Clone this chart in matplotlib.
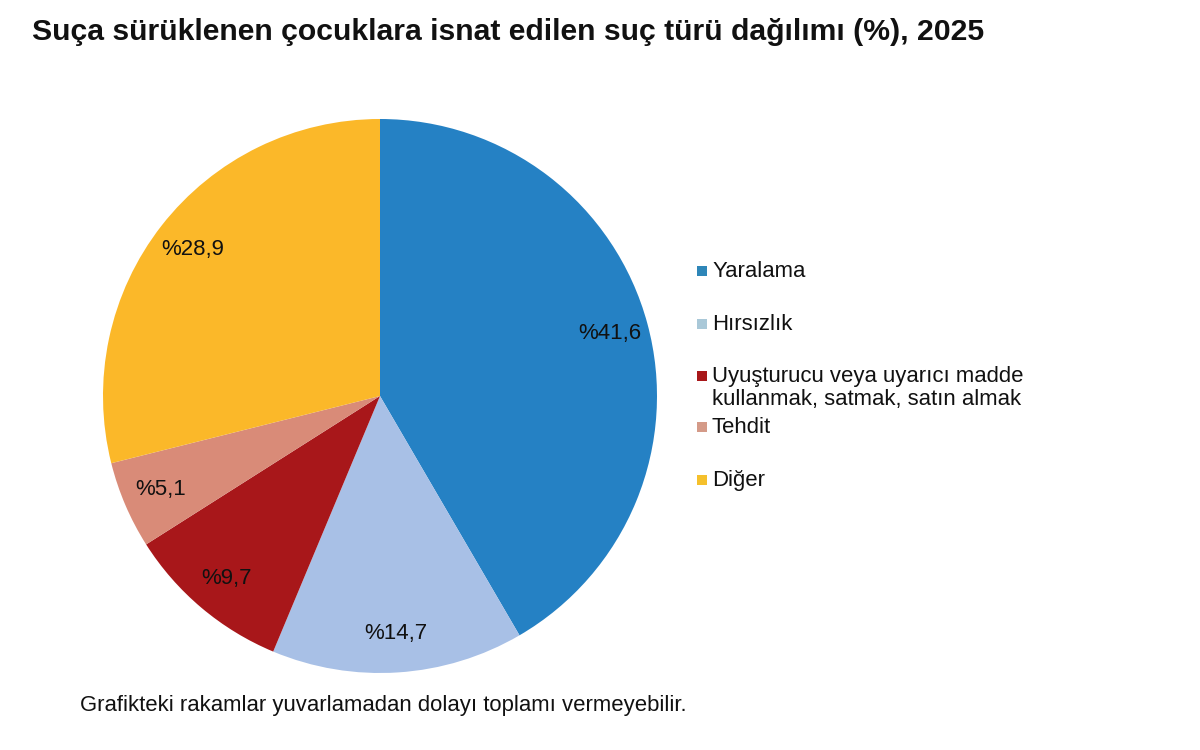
import matplotlib
matplotlib.use("Agg")
import matplotlib.pyplot as plt
from matplotlib.patches import Rectangle

title = "Suça sürüklenen çocuklara isnat edilen suç türü dağılımı (%), 2025"
categories = ["Yaralama", "Hırsızlık",
              "Uyuşturucu veya uyarıcı madde\nkullanmak, satmak, satın almak",
              "Tehdit", "Diğer"]
values = [41.6, 14.7, 9.7, 5.1, 28.9]
colors = ["#2581C4", "#A8C0E6", "#A8171A", "#D98B78", "#FBB829"]
legend_colors = ["#2E86B8", "#A9C8D8", "#A8171A", "#D49A88", "#F5C02C"]
footnote = "Grafikteki rakamlar yuvarlamadan dolayı toplamı vermeyebilir."

plt.rcParams['font.family'] = ['Liberation Sans', 'DejaVu Sans']

W, H = 1200, 750
fig = plt.figure(figsize=(12, 7.5), dpi=100)
fig.patch.set_facecolor("white")

cx, cy, r = 380, 396, 277
ax = fig.add_axes([(cx - r) / W, (H - cy - r) / H, 2 * r / W, 2 * r / H])
wedges, texts, autotexts = ax.pie(
    values, colors=colors, startangle=90, counterclock=False,
    autopct=lambda p: ("%" + f"{p:.1f}").replace(".", ","),
    pctdistance=0.86, radius=1.0,
    textprops=dict(fontsize=16, color="#111111"),
    wedgeprops=dict(linewidth=0))
ax.set_xlim(-1, 1)
ax.set_ylim(-1, 1)
ax.set_aspect("equal")
ax.axis("off")

fig.text(32 / W, 1 - 32 / H, title, fontsize=21.7, fontweight="bold",
         color="#111111", ha="left", va="center")

# legend (manual, mimicking original layout)
leg_y = [271, 324, 376, 427, 480]
for lab, col, y in zip(categories, legend_colors, leg_y):
    fig.patches.append(Rectangle((697 / W, 1 - (y + 5) / H), 10 / W, 10 / H,
                                 transform=fig.transFigure, facecolor=col,
                                 edgecolor="none"))
    fig.text(712 / W, 1 - (y - 10) / H, lab, fontsize=15.9, color="#111111",
             ha="left", va="top", linespacing=1.1)

fig.text(80 / W, 1 - 706 / H, footnote, fontsize=15.9, color="#111111",
         ha="left", va="center")

fig.savefig("out.png", dpi=100, facecolor="white")
